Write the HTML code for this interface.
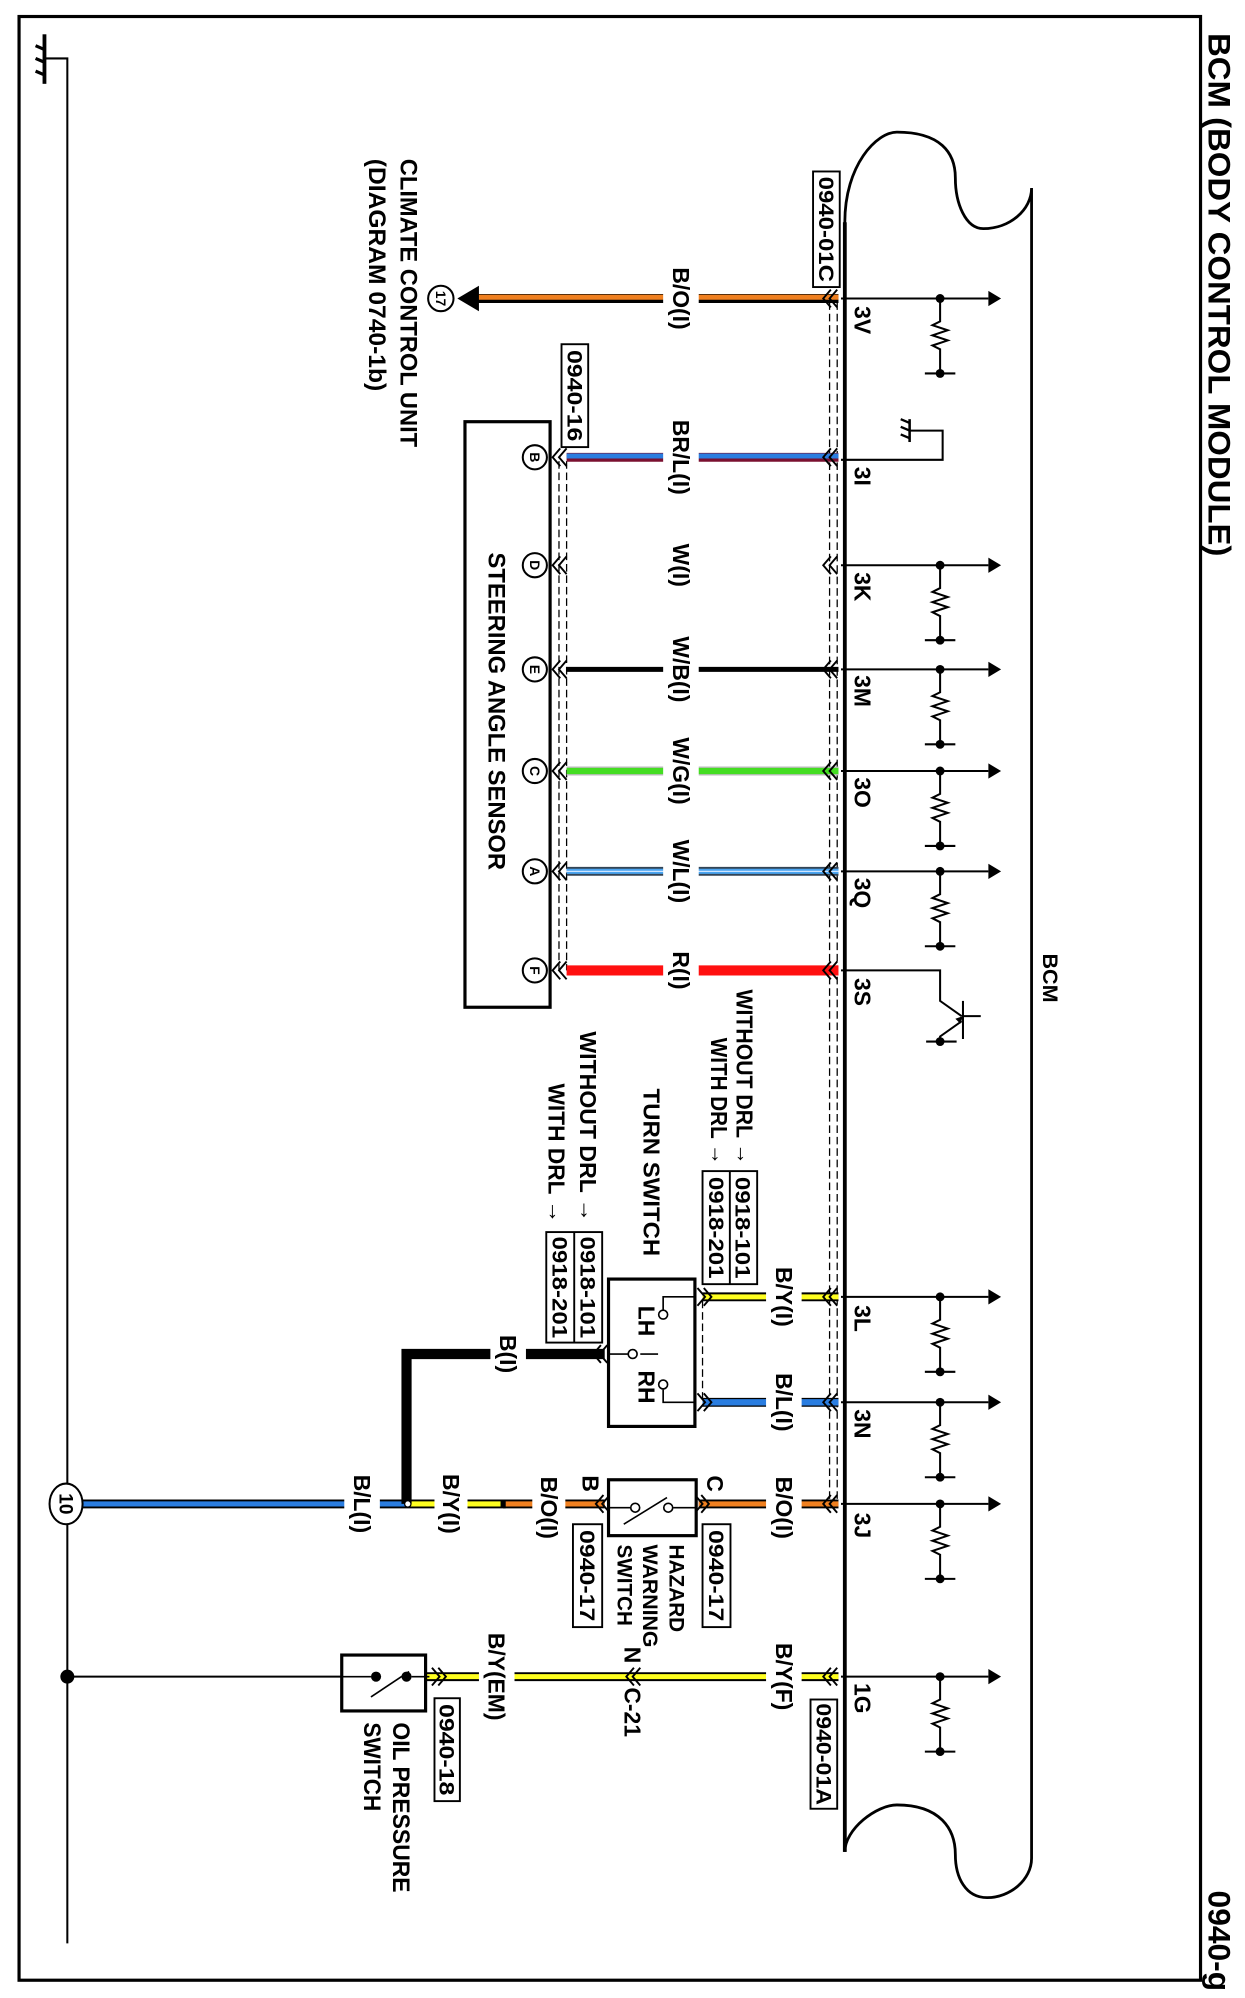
<!DOCTYPE html>
<html><head><meta charset="utf-8"><style>
html,body{margin:0;padding:0;background:#fff;}
svg{display:block;}
text{font-family:"Liberation Sans",Arial,sans-serif;font-weight:bold;fill:#000;}
</style></head><body>
<svg width="1245" height="1998" viewBox="0 0 980 1573" preserveAspectRatio="none" xmlns="http://www.w3.org/2000/svg">
<defs>
<g id="res" fill="none" stroke="#000" stroke-width="1.6">
<line x1="662" y1="0" x2="778" y2="0"/>
<polygon points="778,-6 788,0 778,6" fill="#000" stroke="none"/>
<circle cx="740" cy="0" r="3.5" fill="#000" stroke="none"/>
<polyline points="740,0 740,18 734,21 746,25 734,29 746,33 734,37 740,40 740,59"/>
<circle cx="740" cy="59" r="3.5" fill="#000" stroke="none"/>
<line x1="728" y1="59" x2="752" y2="59"/>
</g>
<g id="chevL" fill="none" stroke="#000" stroke-width="1.5"><polyline points="5,-7 -1,0 5,7"/><polyline points="10,-7 4,0 10,7"/></g>
<g id="chevR" fill="none" stroke="#000" stroke-width="1.5"><polyline points="-5,-7 1,0 -5,7"/><polyline points="-10,-7 -4,0 -10,7"/></g>
</defs>

<!-- border -->
<rect x="15" y="13" width="930" height="1546" fill="none" stroke="#000" stroke-width="2.5"/>
<text transform="translate(960,232) rotate(90)" text-anchor="middle" dy=".35em" font-size="25" textLength="412" lengthAdjust="spacingAndGlyphs">BCM (BODY CONTROL MODULE)</text>
<text transform="translate(960,1528) rotate(90)" text-anchor="middle" dy=".35em" font-size="25">0940-g</text>

<!-- ground rail -->
<line x1="35" y1="27" x2="35" y2="66" stroke="#000" stroke-width="3"/>
<line x1="28" y1="36" x2="35" y2="39" stroke="#000" stroke-width="2.5"/>
<line x1="28" y1="46" x2="35" y2="49" stroke="#000" stroke-width="2.5"/>
<line x1="28" y1="56" x2="35" y2="59" stroke="#000" stroke-width="2.5"/>
<polyline points="35,46 53,46 53,1530" fill="none" stroke="#000" stroke-width="1.6"/>
<circle cx="53" cy="1320" r="5.5" fill="#000"/>

<!-- BCM outline -->
<path d="M665,1458 L665,175 C665,130 690,104 706,104 C740,104 752,120 752,140 C752,160 760,180 774,180 C795,180 812,165 812,148 L812,1463 C812,1480 795,1494 777,1494 C760,1494 752,1478 752,1460 C752,1440 740,1421 706,1421 C690,1421 665,1440 665,1458" fill="none" stroke="#000" stroke-width="2.2"/>
<line x1="665" y1="175" x2="665" y2="1458" stroke="#000" stroke-width="3"/>
<text transform="translate(827,770) rotate(90)" text-anchor="middle" dy=".35em" font-size="17">BCM</text>

<!-- internal circuits -->
<use href="#res" y="235"/><use href="#res" y="445"/><use href="#res" y="527"/><use href="#res" y="607"/><use href="#res" y="686"/>
<use href="#res" y="1021"/><use href="#res" y="1104"/><use href="#res" y="1184"/><use href="#res" y="1320"/>
<polyline points="662,362 742,362 742,339 716,339" fill="none" stroke="#000" stroke-width="1.6"/>
<line x1="716" y1="330" x2="716" y2="348" stroke="#000" stroke-width="2"/>
<line x1="709" y1="330" x2="716" y2="333" stroke="#000" stroke-width="1.8"/>
<line x1="709" y1="336" x2="716" y2="339" stroke="#000" stroke-width="1.8"/>
<line x1="709" y1="342" x2="716" y2="345" stroke="#000" stroke-width="1.8"/>
<polyline points="662,764 740,764 740,788 757,800" fill="none" stroke="#000" stroke-width="1.6"/>
<polyline points="757,804 740,816 740,820" fill="none" stroke="#000" stroke-width="1.6"/>
<line x1="758" y1="788" x2="758" y2="818" stroke="#000" stroke-width="1.6"/>
<line x1="758" y1="800" x2="772" y2="800" stroke="#000" stroke-width="1.6"/>
<circle cx="740" cy="820" r="3.5" fill="#000"/><line x1="729" y1="820" x2="753" y2="820" stroke="#000" stroke-width="1.6"/>
<polygon points="752,802 758,800 756,806" fill="#000"/>

<!-- pin labels -->
<g font-size="18">
<text transform="translate(679,252) rotate(90)" text-anchor="middle" dy=".35em">3V</text>
<text transform="translate(679,375) rotate(90)" text-anchor="middle" dy=".35em">3I</text>
<text transform="translate(679,462) rotate(90)" text-anchor="middle" dy=".35em">3K</text>
<text transform="translate(679,544) rotate(90)" text-anchor="middle" dy=".35em">3M</text>
<text transform="translate(679,624) rotate(90)" text-anchor="middle" dy=".35em">3O</text>
<text transform="translate(679,703) rotate(90)" text-anchor="middle" dy=".35em">3Q</text>
<text transform="translate(679,781) rotate(90)" text-anchor="middle" dy=".35em">3S</text>
<text transform="translate(679,1038) rotate(90)" text-anchor="middle" dy=".35em">3L</text>
<text transform="translate(679,1121) rotate(90)" text-anchor="middle" dy=".35em">3N</text>
<text transform="translate(679,1201) rotate(90)" text-anchor="middle" dy=".35em">3J</text>
<text transform="translate(679,1337) rotate(90)" text-anchor="middle" dy=".35em">1G</text>
</g>

<!-- shield dashed lines -->
<g stroke="#000" stroke-width="1" stroke-dasharray="6,3" fill="none">
<line x1="653" y1="238" x2="653" y2="1184"/><line x1="659" y1="238" x2="659" y2="1184"/>
<line x1="440" y1="363" x2="440" y2="764"/><line x1="446" y1="363" x2="446" y2="764"/>
<line x1="547" y1="1024" x2="547" y2="1104"/><line x1="553" y1="1024" x2="553" y2="1104"/>
</g>

<!-- wires -->
<g>
<line x1="375" y1="235" x2="660" y2="235" stroke="#000" stroke-width="7"/>
<line x1="375" y1="234" x2="660" y2="234" stroke="#f08020" stroke-width="4"/>
<polygon points="360,235 377,225 377,245" fill="#000"/>
<line x1="446" y1="360" x2="660" y2="360" stroke="#7a1030" stroke-width="7"/>
<line x1="446" y1="359" x2="660" y2="359" stroke="#2a7de0" stroke-width="4"/>
<line x1="446" y1="527" x2="660" y2="527" stroke="#000" stroke-width="4"/>
<line x1="446" y1="607" x2="660" y2="607" stroke="#bbb" stroke-width="7"/>
<line x1="446" y1="607" x2="660" y2="607" stroke="#44dd22" stroke-width="5"/>
<line x1="446" y1="686" x2="660" y2="686" stroke="#345" stroke-width="7"/>
<line x1="446" y1="686" x2="660" y2="686" stroke="#4aa4f0" stroke-width="4"/>
<line x1="446" y1="686" x2="660" y2="686" stroke="#cfe6ff" stroke-width="1"/>
<line x1="446" y1="764" x2="660" y2="764" stroke="#ff1010" stroke-width="8"/>
<line x1="553" y1="1021" x2="660" y2="1021" stroke="#000" stroke-width="7"/>
<line x1="553" y1="1021" x2="660" y2="1021" stroke="#ffff20" stroke-width="4"/>
<line x1="553" y1="1104" x2="660" y2="1104" stroke="#000" stroke-width="7"/>
<line x1="553" y1="1104" x2="660" y2="1104" stroke="#2a7de0" stroke-width="5"/>
<line x1="550" y1="1184" x2="660" y2="1184" stroke="#000" stroke-width="7"/>
<line x1="550" y1="1184" x2="660" y2="1184" stroke="#f08020" stroke-width="4"/>
<line x1="396" y1="1184" x2="476" y2="1184" stroke="#000" stroke-width="7"/>
<line x1="398" y1="1184" x2="476" y2="1184" stroke="#f08020" stroke-width="4"/>
<line x1="320" y1="1184" x2="398" y2="1184" stroke="#000" stroke-width="7"/>
<line x1="320" y1="1184" x2="394" y2="1184" stroke="#ffff20" stroke-width="4"/>
<line x1="62" y1="1184" x2="320" y2="1184" stroke="#000" stroke-width="7"/>
<line x1="62" y1="1184" x2="320" y2="1184" stroke="#2a7de0" stroke-width="4"/>
<polyline points="476,1066 320,1066 320,1184" fill="none" stroke="#000" stroke-width="8"/>
<circle cx="321" cy="1184" r="2.5" fill="#fff" stroke="#000" stroke-width="1"/>
<line x1="336" y1="1320" x2="660" y2="1320" stroke="#000" stroke-width="7"/>
<line x1="336" y1="1320" x2="660" y2="1320" stroke="#ffff20" stroke-width="4"/>
<line x1="53" y1="1320" x2="269" y2="1320" stroke="#000" stroke-width="1.6"/>
</g>

<!-- label gaps -->
<g fill="#fff">
<rect x="522" y="225" width="28" height="20"/><rect x="522" y="350" width="28" height="20"/>
<rect x="522" y="517" width="28" height="20"/><rect x="522" y="597" width="28" height="20"/>
<rect x="522" y="676" width="28" height="20"/><rect x="522" y="754" width="28" height="20"/>
<rect x="603" y="1011" width="28" height="20"/><rect x="603" y="1094" width="28" height="20"/>
<rect x="603" y="1174" width="28" height="20"/><rect x="603" y="1310" width="28" height="20"/>
<rect x="386" y="1056" width="28" height="20"/>
<rect x="271" y="1174" width="28" height="20"/><rect x="342" y="1174" width="26" height="20"/>
<rect x="419" y="1174" width="26" height="20"/><rect x="377" y="1310" width="28" height="20"/>
</g>

<!-- chevrons -->
<use href="#chevL" x="649" y="235"/><use href="#chevL" x="649" y="360"/><use href="#chevL" x="649" y="445"/>
<use href="#chevL" x="649" y="527"/><use href="#chevL" x="649" y="607"/><use href="#chevL" x="649" y="686"/>
<use href="#chevL" x="649" y="764"/><use href="#chevL" x="649" y="1021"/><use href="#chevL" x="649" y="1104"/>
<use href="#chevL" x="649" y="1184"/><use href="#chevL" x="649" y="1320"/>
<use href="#chevL" x="436" y="360"/><use href="#chevL" x="436" y="445"/><use href="#chevL" x="436" y="527"/>
<use href="#chevL" x="436" y="607"/><use href="#chevL" x="436" y="686"/><use href="#chevL" x="436" y="764"/>
<use href="#chevR" x="559" y="1021"/><use href="#chevR" x="559" y="1104"/><use href="#chevR" x="557" y="1184"/>
<use href="#chevL" x="468" y="1066"/><use href="#chevL" x="470" y="1184"/>
<use href="#chevR" x="350" y="1320"/><use href="#chevL" x="494" y="1320"/>

<!-- wire labels -->
<g font-size="18">
<text transform="translate(536,235) rotate(90)" text-anchor="middle" dy=".35em">B/O(I)</text>
<text transform="translate(536,360) rotate(90)" text-anchor="middle" dy=".35em">BR/L(I)</text>
<text transform="translate(536,445) rotate(90)" text-anchor="middle" dy=".35em">W(I)</text>
<text transform="translate(536,527) rotate(90)" text-anchor="middle" dy=".35em">W/B(I)</text>
<text transform="translate(536,607) rotate(90)" text-anchor="middle" dy=".35em">W/G(I)</text>
<text transform="translate(536,686) rotate(90)" text-anchor="middle" dy=".35em">W/L(I)</text>
<text transform="translate(536,764) rotate(90)" text-anchor="middle" dy=".35em">R(I)</text>
<text transform="translate(617,1021) rotate(90)" text-anchor="middle" dy=".35em">B/Y(I)</text>
<text transform="translate(617,1104) rotate(90)" text-anchor="middle" dy=".35em">B/L(I)</text>
<text transform="translate(617,1187) rotate(90)" text-anchor="middle" dy=".35em">B/O(I)</text>
<text transform="translate(617,1320) rotate(90)" text-anchor="middle" dy=".35em">B/Y(F)</text>
<text transform="translate(400,1066) rotate(90)" text-anchor="middle" dy=".35em">B(I)</text>
<text transform="translate(285,1184) rotate(90)" text-anchor="middle" dy=".35em">B/L(I)</text>
<text transform="translate(355,1184) rotate(90)" text-anchor="middle" dy=".35em">B/Y(I)</text>
<text transform="translate(432,1187) rotate(90)" text-anchor="middle" dy=".35em">B/O(I)</text>
<text transform="translate(391,1320) rotate(90)" text-anchor="middle" dy=".35em">B/Y(EM)</text>
<text transform="translate(498,1303) rotate(90)" text-anchor="middle" dy=".35em">N</text>
<text transform="translate(498,1348) rotate(90)" text-anchor="middle" dy=".35em">C-21</text>
<text transform="translate(563,1168) rotate(90)" text-anchor="middle" dy=".35em">C</text>
<text transform="translate(465,1168) rotate(90)" text-anchor="middle" dy=".35em">B</text>
</g>

<!-- climate -->
<circle cx="347" cy="235" r="10" fill="#fff" stroke="#000" stroke-width="1.6"/>
<text transform="translate(347,235) rotate(90)" text-anchor="middle" dy=".35em" font-size="11">17</text>
<g font-size="19">
<text transform="translate(322,125) rotate(90)" dy=".35em" textLength="227" lengthAdjust="spacingAndGlyphs">CLIMATE CONTROL UNIT</text>
<text transform="translate(297,125) rotate(90)" dy=".35em" textLength="183" lengthAdjust="spacingAndGlyphs">(DIAGRAM 0740-1b)</text>
</g>

<!-- connector id boxes -->
<g font-size="17">
<rect x="640" y="135" width="21" height="91" fill="#fff" stroke="#000" stroke-width="1.5"/>
<text transform="translate(650.5,180.5) rotate(90)" text-anchor="middle" dy=".35em" textLength="83" lengthAdjust="spacingAndGlyphs">0940-01C</text>
<rect x="442" y="271" width="21" height="81" fill="#fff" stroke="#000" stroke-width="1.5"/>
<text transform="translate(452.5,311.5) rotate(90)" text-anchor="middle" dy=".35em" textLength="72" lengthAdjust="spacingAndGlyphs">0940-16</text>
<rect x="638" y="1338" width="21" height="86" fill="#fff" stroke="#000" stroke-width="1.5"/>
<text transform="translate(648.5,1381) rotate(90)" text-anchor="middle" dy=".35em" textLength="80" lengthAdjust="spacingAndGlyphs">0940-01A</text>
<rect x="342" y="1337" width="20" height="81" fill="#fff" stroke="#000" stroke-width="1.5"/>
<text transform="translate(352,1377.5) rotate(90)" text-anchor="middle" dy=".35em" textLength="72" lengthAdjust="spacingAndGlyphs">0940-18</text>
<rect x="553" y="1200" width="22" height="81" fill="#fff" stroke="#000" stroke-width="1.5"/>
<text transform="translate(564,1240.5) rotate(90)" text-anchor="middle" dy=".35em" textLength="72" lengthAdjust="spacingAndGlyphs">0940-17</text>
<rect x="451" y="1200" width="23" height="81" fill="#fff" stroke="#000" stroke-width="1.5"/>
<text transform="translate(462.5,1240.5) rotate(90)" text-anchor="middle" dy=".35em" textLength="72" lengthAdjust="spacingAndGlyphs">0940-17</text>
<rect x="553" y="922" width="43" height="89" fill="#fff" stroke="#000" stroke-width="1.5"/>
<line x1="574.5" y1="922" x2="574.5" y2="1011" stroke="#000" stroke-width="1.5"/>
<text transform="translate(585,966.5) rotate(90)" text-anchor="middle" dy=".35em" textLength="80" lengthAdjust="spacingAndGlyphs">0918-101</text>
<text transform="translate(564,966.5) rotate(90)" text-anchor="middle" dy=".35em" textLength="80" lengthAdjust="spacingAndGlyphs">0918-201</text>
<rect x="430" y="970" width="44" height="87" fill="#fff" stroke="#000" stroke-width="1.5"/>
<line x1="452" y1="970" x2="452" y2="1057" stroke="#000" stroke-width="1.5"/>
<text transform="translate(463,1013.5) rotate(90)" text-anchor="middle" dy=".35em" textLength="80" lengthAdjust="spacingAndGlyphs">0918-101</text>
<text transform="translate(441,1013.5) rotate(90)" text-anchor="middle" dy=".35em" textLength="80" lengthAdjust="spacingAndGlyphs">0918-201</text>
</g>
<g font-size="18">
<text transform="translate(586,779) rotate(90)" dy=".35em" textLength="138" lengthAdjust="spacingAndGlyphs">WITHOUT DRL →</text>
<text transform="translate(566,817) rotate(90)" dy=".35em" textLength="100" lengthAdjust="spacingAndGlyphs">WITH DRL →</text>
<text transform="translate(463,812) rotate(90)" dy=".35em" textLength="150" lengthAdjust="spacingAndGlyphs">WITHOUT DRL →</text>
<text transform="translate(438,853) rotate(90)" dy=".35em" textLength="110" lengthAdjust="spacingAndGlyphs">WITH DRL →</text>
<text transform="translate(513,857) rotate(90)" dy=".35em" textLength="132" lengthAdjust="spacingAndGlyphs">TURN SWITCH</text>
</g>

<!-- steering angle sensor -->
<rect x="366" y="332" width="67" height="461" fill="none" stroke="#000" stroke-width="2.5"/>
<text transform="translate(391,560) rotate(90)" text-anchor="middle" dy=".35em" font-size="19" textLength="250" lengthAdjust="spacingAndGlyphs">STEERING ANGLE SENSOR</text>
<g font-size="11">
<circle cx="421" cy="360" r="9.5" fill="#fff" stroke="#000" stroke-width="1.6"/><text transform="translate(421,360) rotate(90)" text-anchor="middle" dy=".35em">B</text>
<circle cx="421" cy="445" r="9.5" fill="#fff" stroke="#000" stroke-width="1.6"/><text transform="translate(421,445) rotate(90)" text-anchor="middle" dy=".35em">D</text>
<circle cx="421" cy="527" r="9.5" fill="#fff" stroke="#000" stroke-width="1.6"/><text transform="translate(421,527) rotate(90)" text-anchor="middle" dy=".35em">E</text>
<circle cx="421" cy="607" r="9.5" fill="#fff" stroke="#000" stroke-width="1.6"/><text transform="translate(421,607) rotate(90)" text-anchor="middle" dy=".35em">C</text>
<circle cx="421" cy="686" r="9.5" fill="#fff" stroke="#000" stroke-width="1.6"/><text transform="translate(421,686) rotate(90)" text-anchor="middle" dy=".35em">A</text>
<circle cx="421" cy="764" r="9.5" fill="#fff" stroke="#000" stroke-width="1.6"/><text transform="translate(421,764) rotate(90)" text-anchor="middle" dy=".35em">F</text>
</g>

<!-- turn switch -->
<rect x="479" y="1007" width="68" height="116" fill="#fff" stroke="#000" stroke-width="2.5"/>
<g fill="none" stroke="#000" stroke-width="1.3">
<polyline points="547,1021 522,1021 522,1031"/>
<circle cx="522" cy="1035" r="3.5" fill="#fff"/>
<polyline points="547,1104 522,1104 522,1094"/>
<circle cx="522" cy="1090" r="3.5" fill="#fff"/>
<line x1="479" y1="1066" x2="494" y2="1066"/>
<circle cx="498" cy="1066" r="3.5" fill="#fff"/>
<line x1="504" y1="1066" x2="518" y2="1066"/>
</g>
<text transform="translate(509,1040) rotate(90)" text-anchor="middle" dy=".35em" font-size="18">LH</text>
<text transform="translate(509,1092) rotate(90)" text-anchor="middle" dy=".35em" font-size="18">RH</text>

<!-- hazard switch -->
<rect x="479" y="1165" width="69" height="44" fill="#fff" stroke="#000" stroke-width="2.5"/>
<g fill="none" stroke="#000" stroke-width="1.3">
<line x1="479" y1="1187" x2="496" y2="1187"/><circle cx="500" cy="1187" r="3.5" fill="#fff"/>
<line x1="548" y1="1187" x2="530" y2="1187"/><circle cx="526" cy="1187" r="3.5" fill="#fff"/>
<line x1="491" y1="1200" x2="525" y2="1179"/>
</g>
<g font-size="17">
<text transform="translate(533,1216) rotate(90)" dy=".35em" textLength="69" lengthAdjust="spacingAndGlyphs">HAZARD</text>
<text transform="translate(512,1216) rotate(90)" dy=".35em" textLength="81" lengthAdjust="spacingAndGlyphs">WARNING</text>
<text transform="translate(492,1216) rotate(90)" dy=".35em" textLength="64" lengthAdjust="spacingAndGlyphs">SWITCH</text>
</g>

<!-- 10 circle -->
<ellipse cx="52" cy="1184" rx="13" ry="16" fill="#fff" stroke="#000" stroke-width="1.6"/>
<text transform="translate(52,1184) rotate(90)" text-anchor="middle" dy=".35em" font-size="15">10</text>

<!-- oil pressure switch -->
<rect x="269" y="1303" width="66" height="44" fill="#fff" stroke="#000" stroke-width="2.5"/>
<line x1="269" y1="1320" x2="292" y2="1320" stroke="#000" stroke-width="1.3"/>
<circle cx="296" cy="1320" r="4" fill="#000"/><circle cx="320" cy="1320" r="4" fill="#000"/>
<line x1="292" y1="1336" x2="322" y2="1316" stroke="#000" stroke-width="1.3"/>
<line x1="324" y1="1320" x2="338" y2="1320" stroke="#000" stroke-width="1.3"/>
<g font-size="19">
<text transform="translate(316,1356) rotate(90)" dy=".35em" textLength="134" lengthAdjust="spacingAndGlyphs">OIL PRESSURE</text>
<text transform="translate(293,1356) rotate(90)" dy=".35em" textLength="70" lengthAdjust="spacingAndGlyphs">SWITCH</text>
</g>
</svg>
</body></html>
